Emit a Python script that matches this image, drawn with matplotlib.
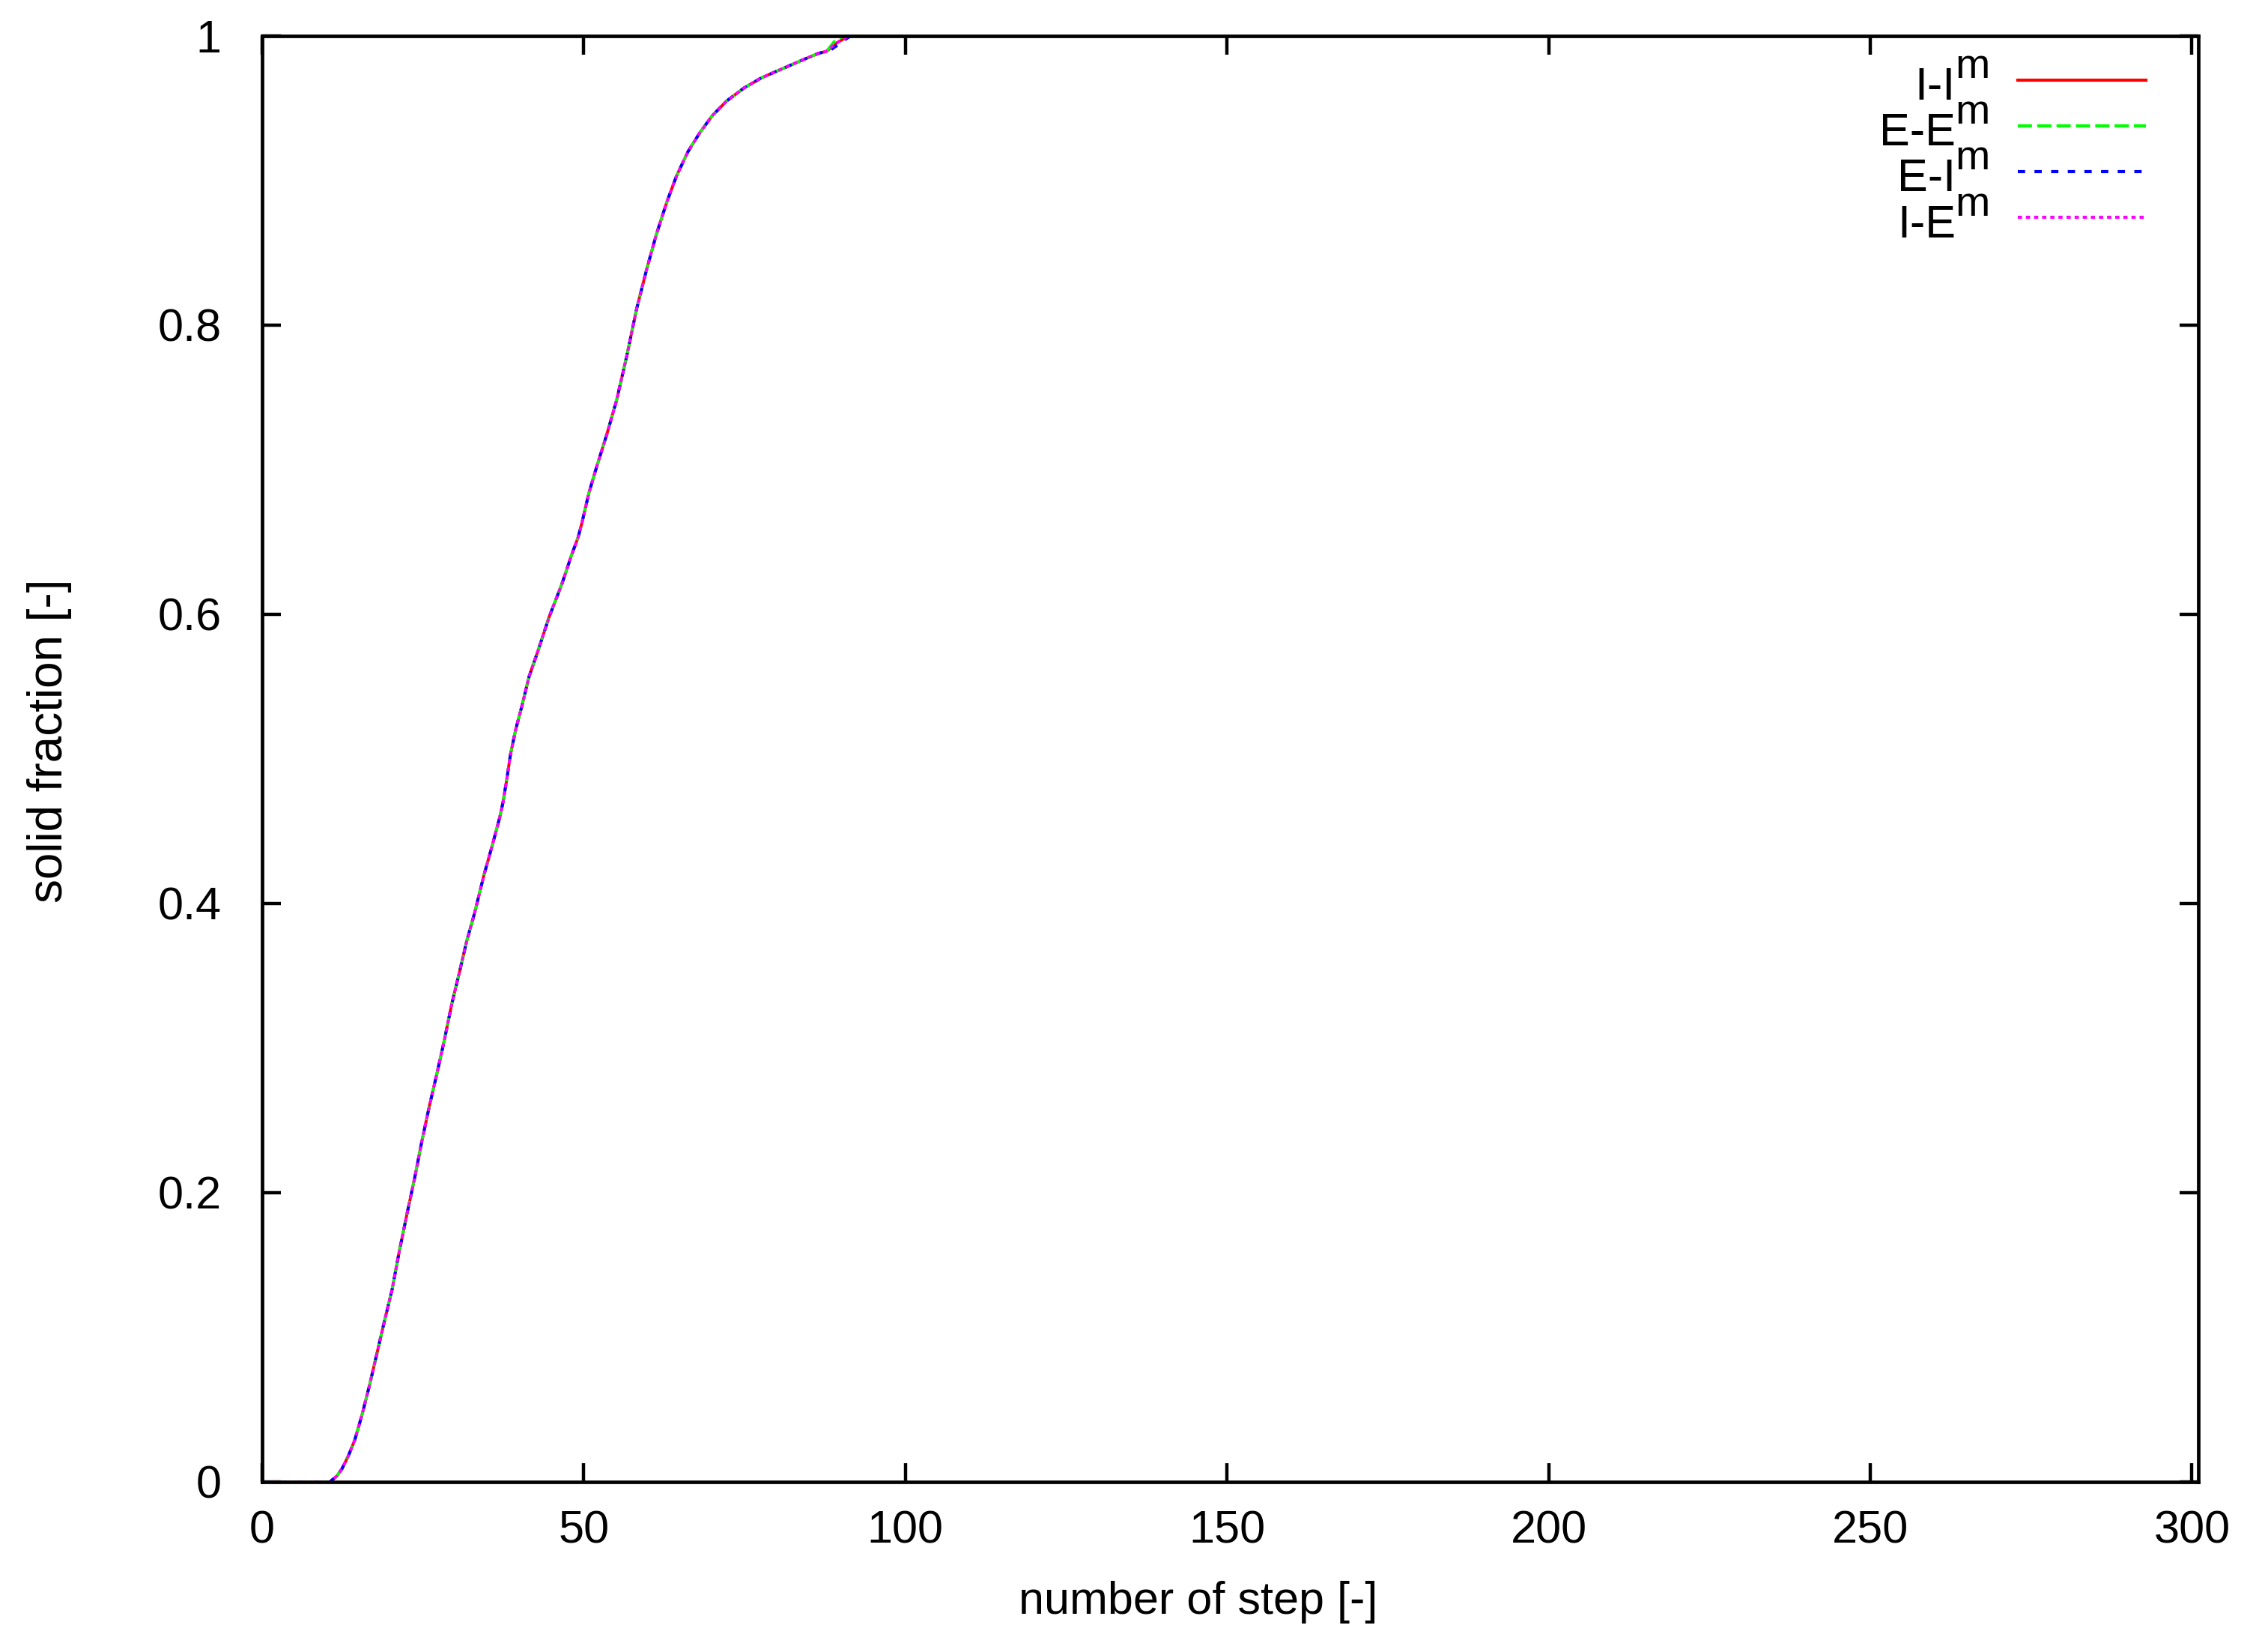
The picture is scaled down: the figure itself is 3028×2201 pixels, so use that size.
import matplotlib
matplotlib.use("Agg")
import matplotlib.pyplot as plt

# values; the four schemes lie practically on top of each other
steps = [0, 10.5, 11.6, 12.4, 13.4, 14.4, 15.5, 16.7, 17.85, 19.0, 20.2, 21.3,
         22.5, 23.7, 24.8, 26.0, 27.2, 28.3, 29.5, 30.7, 31.8, 33.0, 34.5,
         35.7, 36.9, 37.4, 38.0, 38.6, 39.4, 40.4, 41.5, 42.9, 44.6, 46.6,
         48.1, 49.1, 49.7, 50.8, 52.0, 53.55, 55.1, 56.7, 58.2, 59.8, 61.3,
         62.9, 64.4, 66.2, 68.1, 70.0, 72.2, 74.9, 77.6, 80.7, 83.8, 86.5,
         87.7, 88.3, 88.9, 90.0, 90.8, 91.5, 301]
frac_ii = [0, 0, 0.004, 0.009, 0.018, 0.029, 0.046, 0.067, 0.089, 0.111,
           0.133, 0.159, 0.185, 0.210, 0.235, 0.260, 0.283, 0.305, 0.331,
           0.353, 0.374, 0.393, 0.420, 0.439, 0.459, 0.469, 0.485, 0.503,
           0.520, 0.537, 0.557, 0.575, 0.598, 0.621, 0.641, 0.653, 0.663,
           0.684, 0.702, 0.724, 0.748, 0.779, 0.811, 0.839, 0.863, 0.885,
           0.903, 0.920, 0.9335, 0.945, 0.955, 0.964, 0.971, 0.977, 0.983,
           0.988, 0.9893, 0.9914, 0.994, 0.997, 0.999, 1.0, 1.0]
# small split right before the curves reach 1
frac_ee = frac_ii[:57] + [0.9925, 0.996, 0.999, 1.0, 1.0, 1.0]
frac_ei = frac_ii[:57] + [0.990, 0.992, 0.995, 0.998, 1.0, 1.0]
frac_ie = list(frac_ii)

labels = ["I-I", "E-E", "E-I", "I-E"]
colors = ["#ff0000", "#00ff00", "#0000ff", "#ff00ff"]
styles = ["-", (0, (6.8, 2.5)), (0, (3.5, 4.5)), (0, (2.0, 1.9))]
series = [frac_ii, frac_ee, frac_ei, frac_ie]

x_ticks = [0, 50, 100, 150, 200, 250, 300]
y_ticks = [0, 0.2, 0.4, 0.6, 0.8, 1]
y_tick_labels = ["0", "0.2", "0.4", "0.6", "0.8", "1"]

plt.rcParams["font.family"] = ["Liberation Sans", "DejaVu Sans"]
plt.rcParams["font.size"] = 22
plt.rcParams["lines.scale_dashes"] = False

W, H = 3028, 2201
L, R, T, B = 350, 2935, 48, 1978

fig = plt.figure(figsize=(W / 200, H / 200), dpi=200)
ax = fig.add_axes([L / W, (H - B) / H, (R - L) / W, (B - T) / H])


def ax_xy(px, py):
    # reference pixel -> axes fraction
    return (px - L) / (R - L), (B - py) / (B - T)


for frac, col, ls in zip(series, colors, styles):
    ax.plot(steps, frac, color=col, linestyle=ls, lw=1.4)

ax.set_xlim(0, 301)
ax.set_ylim(0, 1)
ax.set_xticks(x_ticks)
ax.set_yticks(y_ticks)
ax.set_yticklabels(y_tick_labels)
ax.tick_params(direction="in", length=9, width=1.6, top=True, right=True,
               labelsize=22)
ax.tick_params(axis="x", pad=13.5)
ax.tick_params(axis="y", pad=19.5)
for sp in ax.spines.values():
    sp.set_linewidth(1.7)

ax.set_xlabel("number of step [-]")
ax.xaxis.set_label_coords(*ax_xy(1600, 2110))
ax.set_ylabel("solid fraction [-]", fontsize=23)
ax.yaxis.set_label_coords(*ax_xy(96, 989))

# key, gnuplot style: text right aligned, sample on the right
for i, (lab, col, ls) in enumerate(zip(labels, colors, styles)):
    line_y = 106.7 + 61.2 * i
    base_y = line_y + 26.3
    x0, y0 = ax_xy(2694, line_y)
    x1, _ = ax_xy(2865, line_y)
    ax.plot([x0, x1], [y0, y0], color=col, linestyle=ls, lw=1.5,
            transform=ax.transAxes, clip_on=False)
    tx, ty = ax_xy(2611, base_y)
    ax.text(tx, ty, lab, ha="right", va="baseline", fontsize=22,
            transform=ax.transAxes)
    mx, my = ax_xy(2610, base_y - 29)
    ax.text(mx, my, "m", ha="left", va="baseline", fontsize=20,
            transform=ax.transAxes)

fig.savefig("out.png", dpi=200)
